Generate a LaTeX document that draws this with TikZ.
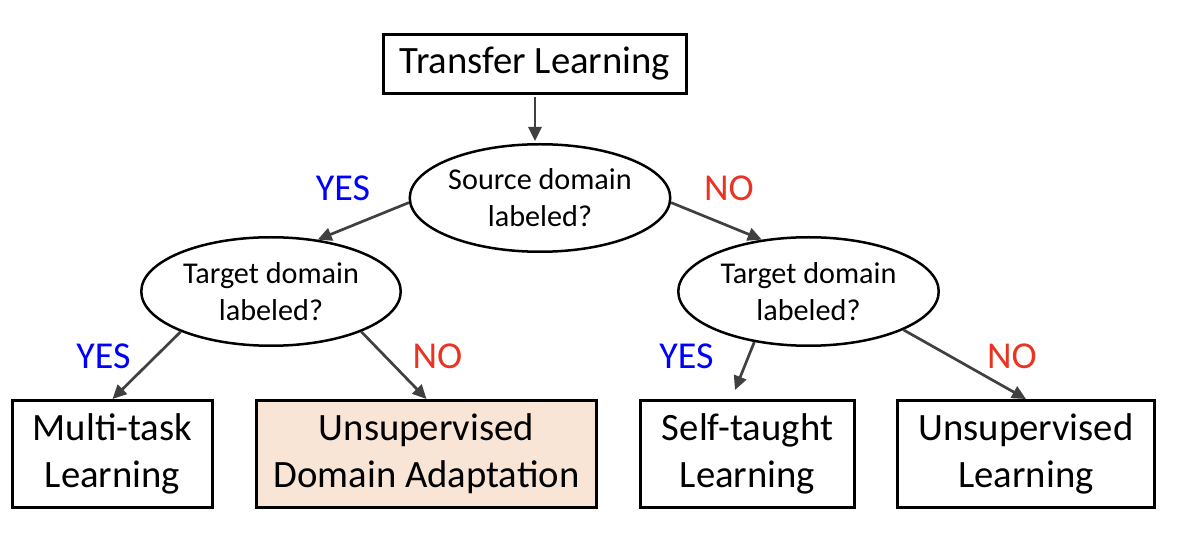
\documentclass[tikz,border=0pt]{standalone}
\usepackage{fontspec}
\setmainfont{Carlito}
\usetikzlibrary{shapes.geometric,arrows.meta,calc}
\definecolor{yescol}{RGB}{0,0,255}
\definecolor{nocol}{RGB}{234,51,35}
\definecolor{udafill}{RGB}{248,229,214}
\definecolor{arrowcol}{RGB}{64,64,64}
\begin{document}
\begin{tikzpicture}[x=1pt,y=-1pt,
  box/.style={draw=black,line width=3pt,rectangle,inner sep=0pt,align=center,font=\fontsize{38.7}{47}\selectfont},
  topbox/.style={box,font=\fontsize{38.7}{44}\selectfont},
  decision/.style={draw=black,line width=2.5pt,ellipse,inner sep=0pt,align=center,font=\fontsize{30.2}{37}\selectfont},
  conn/.style={draw=arrowcol,line width=2.7pt,-{Triangle[length=14pt,width=13pt]}},
  yeslab/.style={text=yescol,inner sep=0pt,font=\fontsize{38}{40}\selectfont},
  nolab/.style={text=nocol,inner sep=0pt,font=\fontsize{38}{40}\selectfont}
]
\useasboundingbox (0,0) rectangle (1180,534);
\fill[white] (0,0) rectangle (1180,534);

\node[topbox,minimum width=303pt,minimum height=59pt] (tl) at (535,64) {Transfer Learning};
\node[decision,minimum width=260.5pt,minimum height=107.5pt] (src) at (540,198) {Source domain\\labeled?};
\node[decision,minimum width=259.5pt,minimum height=108.5pt] (lt) at (271,291.5) {Target domain\\labeled?};
\node[decision,minimum width=260.5pt,minimum height=108.5pt] (rt) at (808.5,291.5) {Target domain\\labeled?};

\node[box,minimum width=200pt,minimum height=107pt] (mt) at (112.5,454) {Multi-task\\Learning};
\node[box,fill=udafill,minimum width=340pt,minimum height=107pt] (uda) at (426.5,454) {Unsupervised\\Domain Adaptation};
\node[box,minimum width=214pt,minimum height=107pt] (st) at (747.5,454) {Self-taught\\Learning};
\node[box,minimum width=257pt,minimum height=107pt] (ul) at (1026,454) {Unsupervised\\Learning};

\node[yeslab] (y1) at (343,188.5) {YES};
\node[nolab] (n1) at (729,188.5) {NO};
\node[yeslab] (y2) at (103.5,356) {YES};
\node[nolab] (n2) at (437.5,356) {NO};
\node[yeslab] (y3) at (686.5,356.5) {YES};
\node[nolab] (n3) at (1012,356.5) {NO};

\draw[conn,shorten <=2pt,shorten >=2pt] (tl.south) -- (tl.south |- src.north);
\draw[conn] (src.182) -- (lt.48);
\draw[conn] (src.358) -- (rt.132);
\draw[conn] (lt.204) -- (mt.north);
\draw[conn] (lt.336) -- (uda.north);
\draw[conn] (rt.223) -- ($(st.north)+(-12.5,-9)$);
\draw[conn] (rt.338) -- (ul.north);
\end{tikzpicture}
\end{document}
